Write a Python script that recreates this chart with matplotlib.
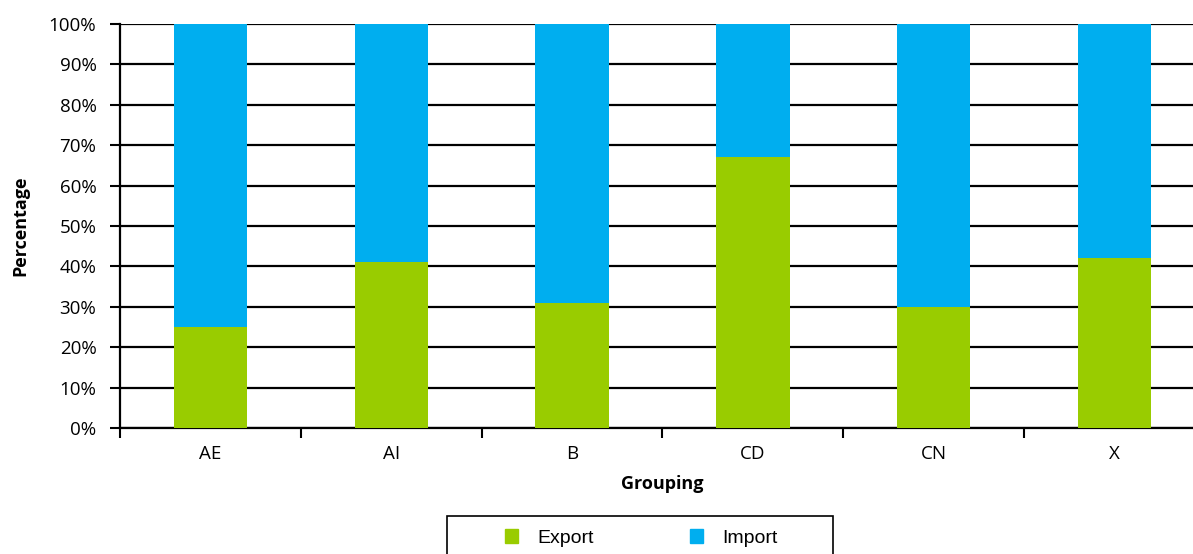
import numpy as np
import matplotlib.pyplot as plt
from matplotlib.patches import Patch, Rectangle
from matplotlib.ticker import FuncFormatter

groups = ["AE", "AI", "B", "CD", "CN", "X"]
export = [25, 41, 31, 67, 30, 42]
imports = [100 - e for e in export]

green = "#99cc00"
blue = "#00aeef"

plt.rcParams['font.family'] = ['Open Sans', 'DejaVu Sans']

fig = plt.figure(figsize=(11.93, 5.54), dpi=100)
# plot area runs a bit past the right edge of the picture, as in the original
ax = fig.add_axes([120/1193, 1 - 428/554, 1085/1193, 404/554])

x = np.arange(len(groups))
ax.bar(x, export, width=0.405, color=green, zorder=3)
ax.bar(x, imports, bottom=export, width=0.405, color=blue, zorder=3)

ax.set_xlim(-0.5, len(groups) - 0.5)
ax.set_ylim(0, 100)
ax.set_yticks(np.arange(0, 101, 10))
ax.yaxis.set_major_formatter(FuncFormatter(lambda v, p: f"{int(v)}%"))
ax.set_xticks(x)
ax.set_xticklabels(groups)
ax.set_xticks(np.arange(-0.5, len(groups), 1), minor=True)
ax.tick_params(axis='x', which='major', length=0, labelsize=13.5, pad=12)
ax.tick_params(axis='x', which='minor', length=7, width=1.5, direction='out')
ax.tick_params(axis='y', length=7, width=1.5, labelsize=13.5, pad=10)
ax.grid(axis='y', color='black', linewidth=1.6, zorder=1)

for s in ['top', 'right']:
    ax.spines[s].set_visible(False)
ax.spines['left'].set_linewidth(1.6)
ax.spines['bottom'].set_linewidth(1.6)

ax.set_xlabel("Grouping", fontsize=13, fontweight='bold', labelpad=9)
ax.set_ylabel("Percentage", fontsize=13, fontweight='bold', labelpad=14)

# legend box, cut off at the bottom edge like the original
fig.add_artist(Rectangle((447/1193, 1 - 580/554), 386/1193, 64/554, transform=fig.transFigure,
                         fill=False, edgecolor='black', linewidth=1.2))
handles = [Patch(color=green, label="Export"), Patch(color=blue, label="Import")]
leg = fig.legend(handles=handles, loc='center left', bbox_to_anchor=(497/1193, 1 - 538/554),
                 ncol=2, frameon=False, prop={'family': 'Liberation Sans', 'size': 14},
                 handlelength=0.7, handleheight=0.7, columnspacing=4.9,
                 handletextpad=1.0, borderaxespad=0)

fig.savefig("out.png", dpi=100)
